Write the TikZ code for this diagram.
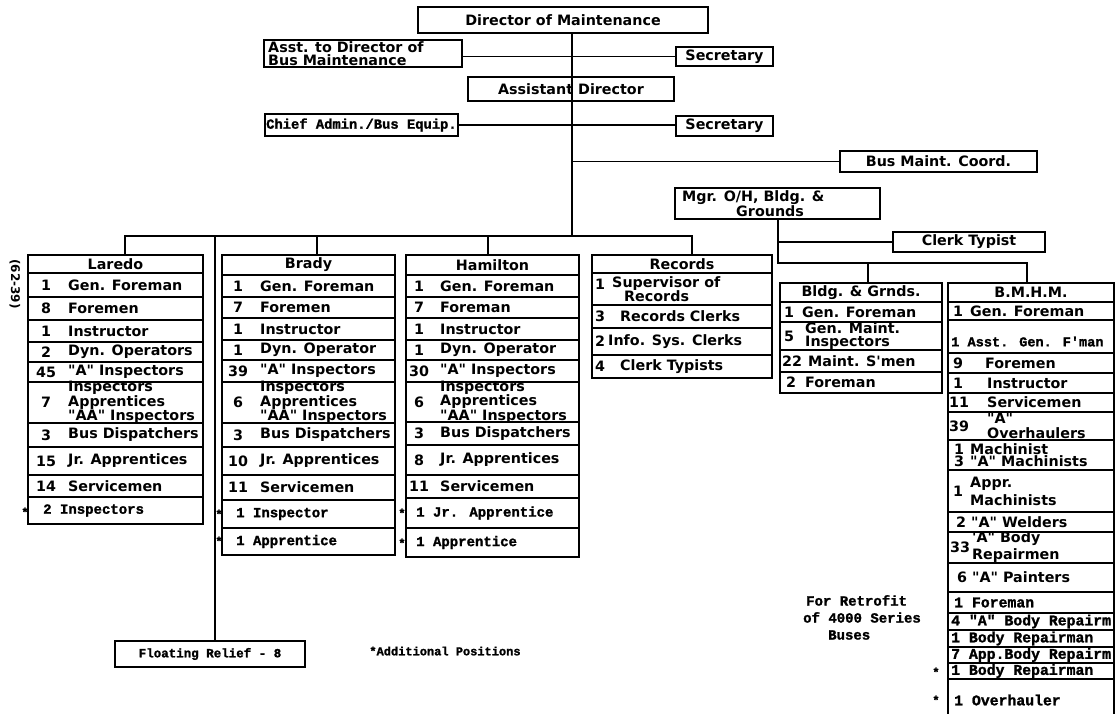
\documentclass[tikz,border=0pt]{standalone}
\usepackage{fontspec}
\newfontfamily\lblfont{DejaVu Sans}
\newfontfamily\twfont[BoldFeatures={FakeBold=1.5}]{Liberation Mono}
\tikzset{
  box/.style={draw, line width=1.5pt, inner sep=0pt, outer sep=0pt, anchor=north west},
  conn/.style={line width=1.8pt},
  sans/.style={font=\lblfont\bfseries\fontsize{14.3}{13}\selectfont},
  sanstight/.style={font=\lblfont\bfseries\fontsize{14.3}{11}\selectfont},
  tw/.style={font=\twfont\bfseries\fontsize{14}{13}\selectfont},
  twbig/.style={font=\twfont\bfseries\fontsize{14.8}{13}\selectfont},
  txt/.style={inner sep=0pt, anchor=west, align=left},
  num/.style={inner sep=0pt, anchor=center},
  starmark/.style={inner sep=0pt, font=\twfont\bfseries\fontsize{12}{12}\selectfont},
}
\newcommand\cellbox[5]{\node[box, minimum width=#4, minimum height=#5] (#1) at (#2,#3) {};}
\newcommand\srow[7]{%
  \cellbox{#1}{#2}{#3}{#4}{#5}
  \node[sans,num] (#1n) at ([xshift=\nx]#1.west) {#6};
  \node[sans,txt] (#1t) at ([xshift=\lx]#1.west) {#7};}
\newcommand\trow[6]{%
  \cellbox{#1}{#2}{#3}{#4}{#5}
  \node[tw,txt] (#1t) at ([xshift=\tx]#1.west) {#6};}
\newcommand\tbrow[6]{%
  \cellbox{#1}{#2}{#3}{#4}{#5}
  \node[twbig,txt] (#1t) at ([xshift=\tx]#1.west) {#6};}
\newcommand\hrow[6]{%
  \node[box,sans,minimum width=#4,minimum height=#5] (#1) at (#2,#3) {#6};}
\begin{document}
\begin{tikzpicture}[x=1pt,y=-1pt]
\fill[white] (0,0) rectangle (1118,713);
\useasboundingbox (0,0) rectangle (1118,713);

% ---------- top of the chart ----------
\hrow{dir}{418}{7}{290}{26}{Director of Maintenance}
\cellbox{asst}{264}{40}{198}{27}
\node[sans,txt,anchor=north west] (asstt) at (268,41) {Asst. to Director of\\Bus Maintenance};
\hrow{sec1}{676}{47}{97}{19}{Secretary}
\hrow{ad}{468}{77}{206}{24}{Assistant Director}
\cellbox{chief}{265}{114}{193}{22}
\node[tw,txt,font=\twfont\bfseries\fontsize{13.8}{13}\selectfont] (chieft) at ([xshift=1pt]chief.west) {Chief Admin./Bus Equip.};
\hrow{sec2}{676}{116}{97}{20}{Secretary}
\hrow{bmc}{840}{151}{197}{21}{Bus Maint. Coord.}
\cellbox{mgr}{675}{188}{205}{31}
\node[sanstight,txt,anchor=north west] (mgrt) at (682,190) {Mgr. O/H, Bldg. \&\\\hspace*{54pt}Grounds};
\hrow{ct}{893}{232}{152}{20}{Clerk Typist}

% ---------- Laredo ----------
\def\nx{18pt}\def\lx{40pt}\def\tx{15pt}
\hrow{L0}{28}{255}{175}{18}{Laredo}
\srow{L1}{28}{273}{175}{24}{1}{Gen. Foreman}
\srow{L2}{28}{297}{175}{23}{8}{Foremen}
\srow{L3}{28}{320}{175}{22}{1}{Instructor}
\srow{L4}{28}{342}{175}{20}{2}{Dyn. Operators}
\srow{L5}{28}{362}{175}{20}{45}{"A" Inspectors}
\srow{L6}{28}{382}{175}{41}{7}{Inspectors\\Apprentices\\"AA" Inspectors}
\srow{L7}{28}{423}{175}{24}{3}{Bus Dispatchers}
\srow{L8}{28}{447}{175}{28}{15}{Jr. Apprentices}
\srow{L9}{28}{475}{175}{22}{14}{Servicemen}
\trow{L10}{28}{497}{175}{27}{2 Inspectors}
\node[starmark] (st1) at (25,512) {*};
\node[rotate=-90, inner sep=0pt, font=\lblfont\bfseries\fontsize{12}{12}\selectfont] (code) at (15,284) {(62-39)};

% ---------- Brady ----------
\def\nx{16pt}\def\lx{38pt}\def\tx{14pt}
\hrow{B0}{222}{255}{173}{20}{Brady}
\srow{B1}{222}{275}{173}{22}{1}{Gen. Foreman}
\srow{B2}{222}{297}{173}{21}{7}{Foremen}
\srow{B3}{222}{318}{173}{22}{1}{Instructor}
\srow{B4}{222}{340}{173}{20}{1}{Dyn. Operator}
\srow{B5}{222}{360}{173}{22}{39}{"A" Inspectors}
\srow{B6}{222}{382}{173}{41}{6}{Inspectors\\Apprentices\\"AA" Inspectors}
\srow{B7}{222}{423}{173}{24}{3}{Bus Dispatchers}
\srow{B8}{222}{447}{173}{28}{10}{Jr. Apprentices}
\srow{B9}{222}{475}{173}{25}{11}{Servicemen}
\trow{B10}{222}{500}{173}{28}{1 Inspector}
\trow{B11}{222}{528}{173}{27}{1 Apprentice}
\node[starmark] (st2) at (219,514) {*};
\node[starmark] (st3) at (219,541) {*};

% ---------- Hamilton ----------
\def\nx{13pt}\def\lx{34pt}\def\tx{10pt}
\hrow{H0}{406}{255}{173}{20}{Hamilton}
\srow{H1}{406}{275}{173}{22}{1}{Gen. Foreman}
\srow{H2}{406}{297}{173}{21}{7}{Foreman}
\srow{H3}{406}{318}{173}{22}{1}{Instructor}
\srow{H4}{406}{340}{173}{20}{1}{Dyn. Operator}
\srow{H5}{406}{360}{173}{22}{30}{"A" Inspectors}
\srow{H6}{406}{382}{173}{40}{6}{Inspectors\\Apprentices\\"AA" Inspectors}
\srow{H7}{406}{422}{173}{23}{3}{Bus Dispatchers}
\srow{H8}{406}{445}{173}{30}{8}{Jr. Apprentices}
\srow{H9}{406}{475}{173}{23}{11}{Servicemen}
\trow{H10}{406}{498}{173}{30}{1 Jr. Apprentice}
\trow{H11}{406}{528}{173}{29}{1 Apprentice}
\node[starmark] (st4) at (402,513) {*};
\node[starmark] (st5) at (402,543) {*};

% ---------- Records ----------
\hrow{R0}{592}{255}{180}{18}{Records}
\cellbox{R1}{592}{273}{180}{32}
\node[sans,num] (R1n) at (600,284) {1};
\node[sanstight,txt,anchor=north west] (R1t) at (612,276) {Supervisor of\\\hspace*{12pt}Records};
\def\nx{8pt}\def\lx{28pt}
\srow{R2}{592}{305}{180}{23}{3}{Records Clerks}
\def\lx{16pt}
\srow{R3}{592}{328}{180}{27}{2}{Info. Sys. Clerks}
\def\lx{28pt}
\srow{R4}{592}{355}{180}{23}{4}{Clerk Typists}

% ---------- Bldg. & Grnds. ----------
\hrow{G0}{780}{283}{162}{19}{Bldg. \& Grnds.}
\def\nx{9pt}\def\lx{22pt}
\srow{G1}{780}{302}{162}{20}{1}{Gen. Foreman}
\def\lx{25pt}
\srow{G2}{780}{322}{162}{28}{5}{Gen. Maint.\\Inspectors}
\def\nx{12pt}\def\lx{28pt}
\srow{G3}{780}{350}{162}{22}{22}{Maint. S'men}
\def\nx{11pt}\def\lx{25pt}
\srow{G4}{780}{372}{162}{21}{2}{Foreman}

% ---------- B.M.H.M. ----------
\hrow{M0}{948}{283}{166}{19}{B.M.H.M.}
\def\nx{10pt}\def\lx{22pt}
\srow{M1}{948}{302}{166}{18}{1}{Gen. Foreman}
\cellbox{M2}{948}{320}{166}{33}
\node[tw,txt,font=\twfont\bfseries\fontsize{13.6}{13}\selectfont] (M2t) at ([xshift=3pt,yshift=-5pt]M2.west) {1 Asst. Gen. F'man};
\def\lx{37pt}
\srow{M3}{948}{353}{166}{20}{9}{Foremen}
\def\lx{39pt}
\srow{M4}{948}{373}{166}{20}{1}{Instructor}
\def\nx{11pt}
\srow{M5}{948}{393}{166}{19}{11}{Servicemen}
\srow{M6}{948}{412}{166}{28}{39}{"A"\\[2pt]Overhaulers}
\cellbox{M7}{948}{440}{166}{30}
\node[sanstight,txt] (M7t) at ([xshift=6pt]M7.west) {\makebox[16pt][l]{1}Machinist\\\makebox[16pt][l]{3}"A" Machinists};
\def\nx{10pt}\def\lx{22pt}
\srow{M8}{948}{470}{166}{42}{1}{Appr.\\[3pt]Machinists}
\def\lx{8pt}
\srow{M9}{948}{512}{166}{20}{}{2 "A" Welders}
\def\nx{12pt}\def\lx{24pt}
\srow{M10}{948}{532}{166}{31}{33}{'A" Body\\[2pt]Repairmen}
\def\lx{9pt}
\srow{M11}{948}{563}{166}{29}{}{6 "A" Painters}
\def\tx{6pt}
\tbrow{M12}{948}{592}{166}{21}{1 Foreman}
\def\tx{3pt}
\tbrow{M13}{948}{613}{166}{17}{4 "A" Body Repairm}
\tbrow{M14}{948}{630}{166}{17}{1 Body Repairman}
\tbrow{M15}{948}{647}{166}{16}{7 App.Body Repairm}
\tbrow{M16}{948}{663}{166}{16}{1 Body Repairman}
\def\tx{6pt}
\tbrow{M17}{948}{679}{166}{42}{1 Overhauler}
\node[starmark] (st6) at (936,672) {*};
\node[starmark] (st7) at (936,700) {*};

% ---------- free texts ----------
\hrow{flt}{115}{641}{190}{26}{}
\node[tw,font=\twfont\bfseries\fontsize{12.5}{13}\selectfont] (fltt) at (flt.center) {Floating Relief - 8};
\node[tw,txt,anchor=north west,font=\twfont\bfseries\fontsize{14}{17}\selectfont] (retro) at (803,595) {\hspace*{3pt}For Retrofit\\of 4000 Series\\\hspace*{25pt}Buses};
\node[tw,font=\twfont\bfseries\fontsize{12}{12}\selectfont] (addl) at (445,651) {*Additional Positions};

% ---------- connectors ----------
\coordinate (mx) at (572,0);
\coordinate (bL) at (125,236);
\coordinate (bR) at (692,236);
\coordinate (bB) at (317,236);
\coordinate (bH) at (488,236);
\coordinate (bF) at (215,236);
\coordinate (gx) at (778,263);
\coordinate (gB) at (868,263);
\coordinate (gR) at (1027,263);
\draw[conn] (dir.south -| mx) -- (bL -| mx);
\draw[conn] (asst.east |- sec1.west) -- (sec1.west);
\draw[conn] (chief.east) -- (chief.east -| sec2.west);
\draw[conn] (bmc.west -| mx) -- (bmc.west);
\draw[conn] (L0.north -| bL) -- (bL) -- (bR) -- (R0.north -| bR);
\draw[conn] (bB) -- (B0.north -| bB);
\draw[conn] (bH) -- (H0.north -| bH);
\draw[conn] (bF) -- (flt.north -| bF);
\draw[conn] (mgr.south -| gx) -- (gx) -- (gR) -- (M0.north -| gR);
\draw[conn] (gB) -- (G0.north -| gB);
\draw[conn] (ct.west -| gx) -- (ct.west);
\end{tikzpicture}
\end{document}
